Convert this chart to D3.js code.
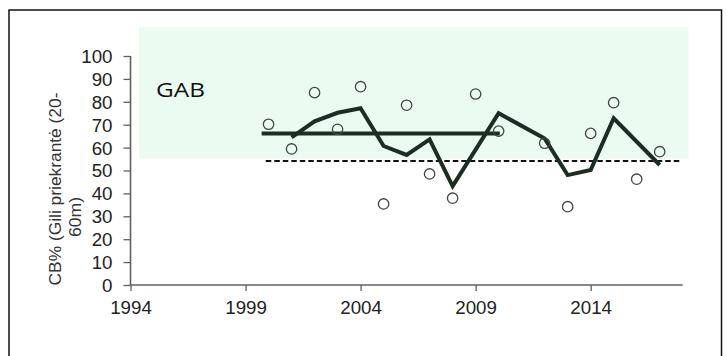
<!DOCTYPE html>
<html><head><meta charset="utf-8">
<script src="https://cdn.jsdelivr.net/npm/d3@7"></script>
<style>body{margin:0;background:#fff}svg{display:block}</style>
</head><body>
<svg id="c" width="727" height="356"></svg>
<script>
const pointYears = [2000,2001,2002,2003,2004,2005,2006,2007,2008,2009,2010,2012,2013,2014,2015,2016,2017];
const pointValues = [70.2,59.4,84.0,68.0,86.6,35.4,78.5,48.5,37.9,83.4,67.2,61.9,34.2,66.2,79.6,46.2,58.2];
const lineYears = [2001,2002,2003,2004,2005,2006,2007,2008,2010,2012,2013,2014,2015,2017];
const lineValues = [64.5,71.5,75.2,77.2,60.7,56.8,63.6,43.2,75.0,64.0,48.0,50.2,72.8,52.4];
const meanYears = [1999.7,2010.05];
const meanValue = 66.2;
const refYears = [1999.88,2017.98];
const refValue = 54.1;
const bandYears = [1994.37,2018.25];
const bandValues = [55.2,112.5];
const xTicks = [1994,1999,2004,2009,2014];
const yTicks = [0,10,20,30,40,50,60,70,80,90,100];
const yTitle = ["CB% (Gili priekrantė (20-","60m)"];
const label = "GAB";

const svg = d3.select("#c");
const x = d3.scaleLinear().domain([1994,2018]).range([130.5,682.7]);
const y = d3.scaleLinear().domain([0,100]).range([285,56]);
const font = "'Liberation Sans', Arial, sans-serif";
const SX = 1.04;

// outer frame
svg.append("rect").attr("x",9).attr("y",10).attr("width",712.5).attr("height",370)
  .attr("fill","none").attr("stroke","#111").attr("stroke-width",1.5);

// band
svg.append("rect").attr("x",x(bandYears[0])).attr("y",y(bandValues[1]))
  .attr("width",x(bandYears[1])-x(bandYears[0])).attr("height",y(bandValues[0])-y(bandValues[1]))
  .attr("fill","#eafcf2");

// axes
const ya = svg.append("g").attr("transform","translate(130.5,0)")
  .call(d3.axisLeft(y).tickValues(yTicks).tickSize(7).tickFormat(d3.format("d")));
const xa = svg.append("g").attr("transform","translate(0,285)")
  .call(d3.axisBottom(x).tickValues(xTicks).tickSize(6).tickSizeOuter(0).tickFormat(d3.format("d")));
[ya,xa].forEach(a=>{
  a.select(".domain").attr("stroke","#606060").attr("stroke-width",1.6);
  a.selectAll(".tick line").attr("stroke","#606060").attr("stroke-width",1.3);
  a.selectAll("text").attr("font-family",font).attr("font-size",18).attr("fill","#222");
});
ya.select(".domain").attr("d","M-0,"+y(100)+"V"+y(0));
xa.select(".domain").attr("d","M"+x(1994)+",0H"+x(2018));
ya.selectAll(".tick text").attr("x",0).attr("dy","0.36em").attr("text-anchor","end")
  .attr("transform","translate(-18,0) scale("+SX+",1)");
xa.selectAll(".tick text").attr("y",0).attr("dy",0).attr("text-anchor","middle")
  .attr("transform","translate(0,28.5) scale("+SX+",1)");

// y title
const titlePos = [[61,189,193],[81,217,40]];
svg.selectAll("text.ytitle").data(yTitle).enter().append("text").attr("class","ytitle")
  .attr("font-family",font).attr("font-size",17).attr("fill","#333").attr("text-anchor","middle")
  .text(d=>d)
  .each(function(d,i){
    const len = this.getComputedTextLength();
    const s = titlePos[i][2]/len;
    d3.select(this).attr("transform","translate("+titlePos[i][0]+","+titlePos[i][1]+") rotate(-90) scale("+s+",1)");
  });

// GAB label
svg.append("text").attr("font-family","'Open Sans', sans-serif")
  .attr("font-size",20).attr("fill","#111").text(label)
  .each(function(){
    const s = 49/this.getComputedTextLength();
    d3.select(this).attr("transform","translate(156,97) scale("+s+",1)");
  });

// dashed ref line
svg.append("line").attr("x1",x(refYears[0])).attr("x2",x(refYears[1]))
  .attr("y1",y(refValue)).attr("y2",y(refValue))
  .attr("stroke","#111").attr("stroke-width",2).attr("stroke-dasharray","5.5,3");

// mean line
svg.append("line").attr("x1",x(meanYears[0])).attr("x2",x(meanYears[1]))
  .attr("y1",y(meanValue)).attr("y2",y(meanValue))
  .attr("stroke","#1c2e22").attr("stroke-width",4);

// trend line
const ld = lineYears.map((yr,i)=>[yr,lineValues[i]]);
svg.append("path").datum(ld)
  .attr("d",d3.line().x(d=>x(d[0])).y(d=>y(d[1])))
  .attr("fill","none").attr("stroke","#1c2e22").attr("stroke-width",4).attr("stroke-linejoin","miter");

// points
svg.selectAll("circle.pt").data(pointYears.map((yr,i)=>[yr,pointValues[i]])).enter()
  .append("circle").attr("class","pt").attr("cx",d=>x(d[0])).attr("cy",d=>y(d[1])).attr("r",5.2)
  .attr("fill","none").attr("stroke","#444").attr("stroke-width",1.3);
</script>
</body></html>
